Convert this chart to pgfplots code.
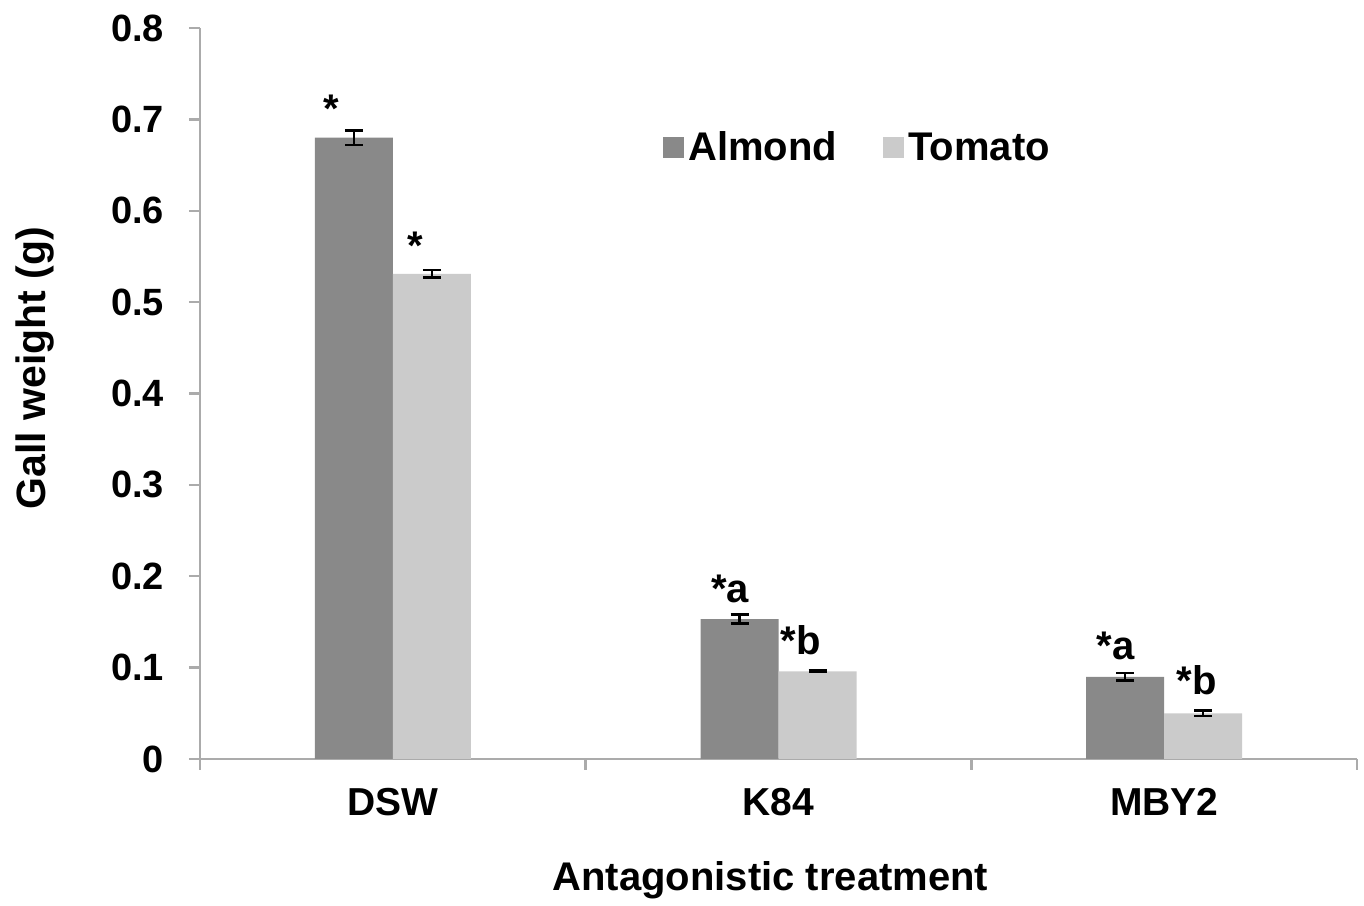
\documentclass[border=0pt]{standalone}
\usepackage{fontspec}
\setmainfont{Liberation Sans}
\usepackage{pgfplots}
\pgfplotsset{compat=1.18}
\definecolor{almond}{HTML}{898989}
\definecolor{tomato}{HTML}{CBCBCB}
\definecolor{axisgray}{HTML}{ABABAB}

\begin{document}
\begin{tikzpicture}
\begin{axis}[
  scale only axis, width=578.5pt, height=365.5pt,
  ybar=0pt, bar width=39pt,
  xmin=0.5, xmax=3.5, ymin=0, ymax=0.8,
  axis x line*=bottom, axis y line*=left,
  axis line style={axisgray, line width=1.2pt},
  ytick={0,0.1,0.2,0.3,0.4,0.5,0.6,0.7,0.8},
  yticklabel style={/pgf/number format/fixed, /pgf/number format/precision=1, xshift=-9pt},
  /pgf/number format/assume math mode=true,
  tick label style={font=\fontsize{19}{19}\selectfont\bfseries, black},
  tick align=outside, major tick length=5.5pt,
  tick style={axisgray, line width=1.2pt},
  xtick={0.5,1.5,2.5,3.5}, xticklabels={},
  extra x ticks={1,2,3}, extra x tick labels={DSW,K84,MBY2},
  extra x tick style={major tick length=0pt, xticklabel style={yshift=-11pt, font=\fontsize{19.5}{19.5}\selectfont\bfseries}},
  xlabel={Antagonistic treatment},
  ylabel={Gall weight (g)},
  xlabel style={font=\fontsize{20}{20}\selectfont\bfseries, at={(axis description cs:0.493,-0.166)}, anchor=center},
  ylabel style={font=\fontsize{20.5}{20.5}\selectfont\bfseries, at={(axis description cs:-0.143,0.535)}, anchor=center},
  legend image code/.code={\fill[#1] (0pt,-5.25pt) rectangle (10.5pt,5.25pt);},
  legend style={draw=none, fill=none, at={(0.395,0.836)}, anchor=west,
    legend columns=2, font=\fontsize{20}{20}\selectfont\bfseries,
    /tikz/every even column/.append style={column sep=21pt}},
  clip=false,
]
\addplot[draw=none, fill=almond,
  error bars/.cd, y dir=both, y explicit,
  error bar style={black, line width=1.3pt},
  error mark options={rotate=90, mark size=4.5pt, line width=1.3pt, black}]
  coordinates {(1,0.680) +- (0,0.008) (2,0.153) +- (0,0.005) (3,0.090) +- (0,0.004)};
\addplot[draw=none, fill=tomato,
  error bars/.cd, y dir=both, y explicit,
  error bar style={black, line width=1.3pt},
  error mark options={rotate=90, mark size=4.5pt, line width=1.3pt, black}]
  coordinates {(1,0.531) +- (0,0.004) (2,0.096) +- (0,0.001) (3,0.050) +- (0,0.003)};
\legend{Almond, Tomato}
\begin{scope}[every node/.style={anchor=north, inner sep=0pt, font=\fontsize{20}{20}\selectfont\bfseries}]
\node at (axis cs:0.840,0.7267) {*};
\node at (axis cs:1.058,0.5767) {*};
\node at (axis cs:1.874,0.2014) {*a};
\node at (axis cs:2.058,0.1467) {*b};
\node at (axis cs:2.874,0.1390) {*a};
\node at (axis cs:3.084,0.1029) {*b};
\end{scope}
\end{axis}
\path ([xshift=-100pt,yshift=-69.5pt]current axis.south west) rectangle ([xshift=3.5pt,yshift=14pt]current axis.north east);
\end{tikzpicture}
\end{document}
